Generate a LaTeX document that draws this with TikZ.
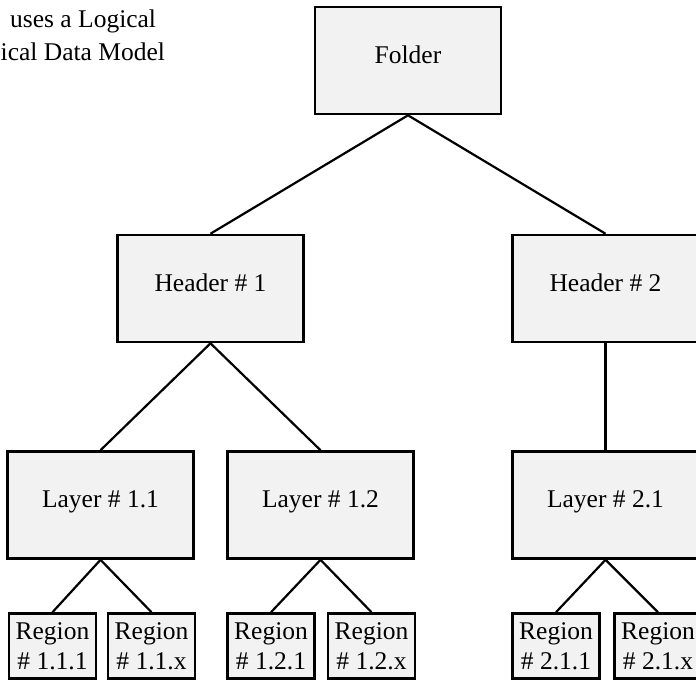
\documentclass[tikz,border=0pt]{standalone}
\usepackage{fontspec}
\setmainfont{Liberation Serif}
\usepackage{tikz}

\begin{document}
\begin{tikzpicture}[x=1pt, y=-1pt, every node/.style={font=\fontsize{25.5}{29.5}\selectfont},
	box/.style={draw, line width=2.6pt, fill=black!5, minimum width=186pt, minimum height=107pt, text depth=12pt},
	regbox/.style={draw, line width=2.6pt, fill=black!5, minimum width=87pt, minimum height=65pt, inner sep=1pt, align=center},
	conn/.style={line width=2.2pt}]
			 \clip (0,0) rectangle (696,681);
			 \node[anchor=base west, inner sep=0] (note1)at(10,27) {uses a Logical};
			 \node[anchor=base west, inner sep=0] (note2)at(0.5,60) {ical Data Model};
			 \node[box] (folder)at(408,60.5) {Folder};
			 \node[box] (h1)at(210.5,288.5) {Header \# 1};
			 \node[box] (h2)at(605.5,288.5) {Header \# 2};
			 \node[box] (l11)at(100.5,505) {Layer \# 1.1};
			 \node[box] (l12)at(320.5,505) {Layer \# 1.2};
			 \node[box] (l21)at(605.5,505) {Layer \# 2.1};
			 \node[regbox] (r111)at(52.5,646) {Region\\\# 1.1.1};
			 \node[regbox] (r11x)at(151.5,646) {Region\\\# 1.1.x};
			 \node[regbox] (r121)at(271,646) {Region\\\# 1.2.1};
			 \node[regbox] (r12x)at(371.5,646) {Region\\\# 1.2.x};
			 \node[regbox] (r211)at(556,646) {Region\\\# 2.1.1};
			 \node[regbox] (r21x)at(658,646) {Region\\\# 2.1.x};
			 \draw[conn] (folder.south) -- (h1.north);
			 \draw[conn] (folder.south) -- (h2.north);
			 \draw[conn] (h1.south) -- (l11.north);
			 \draw[conn] (h1.south) -- (l12.north);
			 \draw[conn] (h2.south) -- (l21.north);
			 \draw[conn] (l11.south) -- (r111.north);
			 \draw[conn] (l11.south) -- (r11x.north);
			 \draw[conn] (l12.south) -- (r121.north);
			 \draw[conn] (l12.south) -- (r12x.north);
			 \draw[conn] (l21.south) -- (r211.north);
			 \draw[conn] (l21.south) -- (r21x.north);
		\end{tikzpicture}
\end{document}
